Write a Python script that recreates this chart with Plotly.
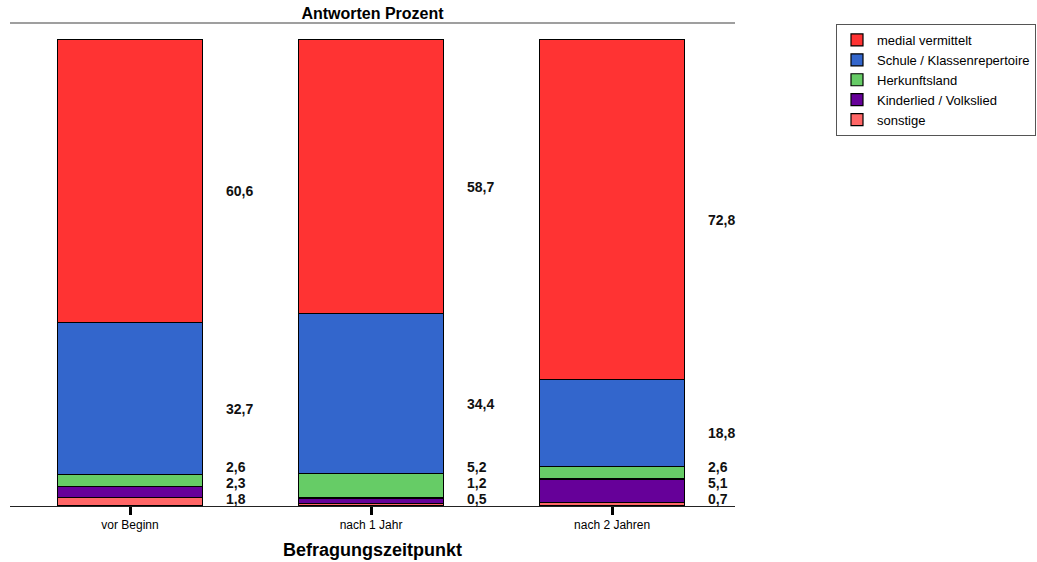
import plotly.graph_objects as go

# Survey time points and answer shares (percent), stacked from the bottom up
categories = ["vor Beginn", "nach 1 Jahr", "nach 2 Jahren"]
series_names = ["sonstige", "Kinderlied / Volkslied", "Herkunftsland",
                "Schule / Klassenrepertoire", "medial vermittelt"]
sonstige = [1.8, 0.5, 0.7]
kinderlied = [2.3, 1.2, 5.1]
herkunftsland = [2.6, 5.2, 2.6]
schule = [32.7, 34.4, 18.8]
medial = [60.6, 58.7, 72.8]
colors = ["#FF6666", "#660099", "#66CC66", "#3366CC", "#FF3333"]

series = [sonstige, kinderlied, herkunftsland, schule, medial]
FONT = "Liberation Sans, Arial, sans-serif"

x_pos = list(range(len(categories)))

fig = go.Figure()
for name, vals, col in zip(series_names, series, colors):
    fig.add_trace(go.Bar(
        x=x_pos, y=vals, name=name, width=0.6,
        marker=dict(color=col, line=dict(color="black", width=1.2)),
        hoverinfo="name+y",
    ))

# Value labels beside each bar, centred on the segment and spread apart
# when neighbouring segments are too thin to separate them
label_shift = 2.2
min_gap = 3.4
min_y = 1.5
for i in x_pos:
    base = 0.0
    prev = None
    for vals in series:
        v = vals[i]
        y = base + v / 2 - label_shift
        lo = min_y if prev is None else prev + min_gap
        y = max(y, lo)
        prev = y
        base += v
        fig.add_annotation(
            x=i + 0.39, y=y, xref="x", yref="y",
            text="<b>" + f"{v:.1f}".replace(".", ",") + "</b>",
            showarrow=False, xanchor="left", yanchor="middle",
            font=dict(family=FONT, size=14, color="#111111"),
        )

# Rule under the chart title
fig.add_shape(type="line", xref="paper", yref="paper", x0=0, x1=1, y0=1, y1=1,
              line=dict(color="#7f7f7f", width=1.5))

# Axis title placed below the tick labels
fig.add_annotation(
    text="<b>Befragungszeitpunkt</b>", xref="paper", yref="paper",
    x=0.5, y=-44 / 483, xanchor="center", yanchor="middle", showarrow=False,
    font=dict(family=FONT, size=18, color="black"),
)

fig.update_layout(
    width=1037, height=562,
    barmode="stack",
    paper_bgcolor="white", plot_bgcolor="white",
    margin=dict(l=10, r=302, t=23, b=56, autoexpand=False),
    title=dict(text="<b>Antworten Prozent</b>", x=(10 + 725 / 2) / 1037, xanchor="center",
               y=1 - 13 / 562, yanchor="middle",
               font=dict(family=FONT, size=16, color="black")),
    showlegend=True,
    legend=dict(
        xref="container", yref="container",
        x=836 / 1037, xanchor="left", y=1 - 24 / 562, yanchor="top",
        traceorder="reversed", itemwidth=30,
        bordercolor="#555555", borderwidth=1, bgcolor="white",
        font=dict(family=FONT, size=13, color="black"),
        itemclick=False, itemdoubleclick=False,
    ),
    xaxis=dict(
        tickmode="array", tickvals=x_pos, ticktext=categories,
        range=[-0.498, 2.51],
        showline=True, linecolor="#222222", linewidth=1,
        ticks="outside", ticklen=8, tickwidth=2.5, tickcolor="black",
        showgrid=False, zeroline=False, automargin=False,
        tickfont=dict(family=FONT, size=12, color="black"),
    ),
    yaxis=dict(range=[0, 103.6], visible=False, showgrid=False, zeroline=False),
    font=dict(family=FONT),
)

fig.write_html("out.html")
